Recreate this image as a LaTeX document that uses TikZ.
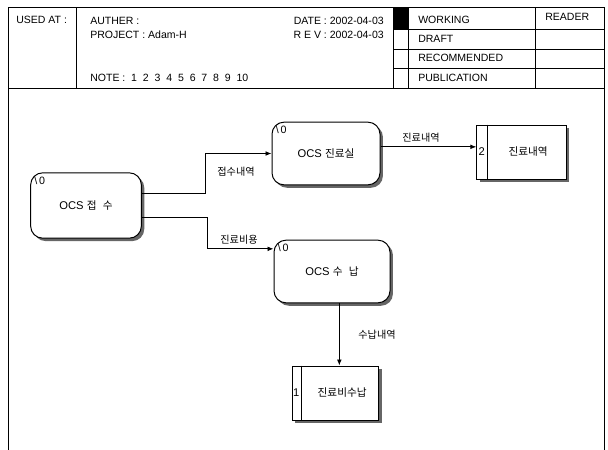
\documentclass[tikz,border=0pt]{standalone}
\usepackage{fontspec}
\setmainfont{Liberation Sans}
\newfontfamily\kr{Noto Sans CJK KR}[Scale=0.95]
\usetikzlibrary{arrows.meta,positioning,shadows}
\tikzset{
  frame/.style={line width=0.75pt},
  hdr/.style={anchor=west, inner sep=0pt, font=\fontsize{7.9}{9}\selectfont},
  proc/.style={rectangle, rounded corners=9pt, draw, line width=0.75pt, fill=white, minimum width=81pt, minimum height=47pt, font=\fontsize{8.4}{10}\selectfont, drop shadow={shadow xshift=2.2pt, shadow yshift=-2.2pt, fill=black!60, opacity=1}},
  store/.style={rectangle, draw, line width=0.75pt, fill=white, minimum width=66pt, minimum height=40.5pt, font=\fontsize{8.4}{10}\selectfont, drop shadow={shadow xshift=2.2pt, shadow yshift=-2.2pt, fill=black!60, opacity=1}},
  tag/.style={anchor=north west, inner sep=0pt, font=\fontsize{8}{9}\selectfont},
  num/.style={inner sep=0pt, font=\fontsize{8.4}{10}\selectfont},
  flow/.style={-{Latex[length=4.5pt,width=3.6pt]}, line width=0.65pt},
  flowlbl/.style={inner sep=0pt, font=\kr\fontsize{8}{10}\selectfont}
}
\begin{document}
\begin{tikzpicture}[x=0.75pt,y=-0.75pt]
  \useasboundingbox (0,0) rectangle (608,450);
  % header
  \draw[frame] (8,7) rectangle (604,88);
  \draw[frame] (76,7) -- (76,88);
  \draw[frame] (393,7) -- (393,88);
  \draw[frame] (408,7) -- (408,88);
  \draw[frame] (535,7) -- (535,88);
  \foreach \y in {29,49,68} \draw[frame] (393,\y) -- (604,\y);
  \fill (393,7) rectangle (408,29);
  \node[hdr] (usedat) at (16,20) {USED AT :};
  \node[hdr] (auther) at (90,21) {AUTHER :};
  \node[hdr] (project) at (90,35) {PROJECT : Adam-H};
  \node[hdr] (note) at (90,78) {NOTE :\ \ 1\ \ 2\ \ 3\ \ 4\ \ 5\ \ 6\ \ 7\ \ 8\ \ 9\ \ 10};
  \node[hdr, anchor=east] (date) at (384,21) {DATE : 2002-04-03};
  \node[hdr, anchor=east] (rev) at (384,35) {R E V : 2002-04-03};
  \node[hdr] (working) at (418,20) {WORKING};
  \node[hdr] (draft) at (418,39) {DRAFT};
  \node[hdr] (recomm) at (418,58) {RECOMMENDED};
  \node[hdr] (public) at (418,78) {PUBLICATION};
  \node[hdr] (reader) at (545,17) {READER};
  % main frame
  \draw[frame] (8,88) -- (8,450);
  \draw[frame] (604,88) -- (604,450);

  % processes
  \node[proc, minimum width=83pt, minimum height=49pt] (p0) at (86,205.5) {OCS {\kr 접}\ \ {\kr 수}};
  \node[proc] (p1) at (326,153.5) {OCS {\kr 진료실}};
  \node[proc, minimum width=87pt] (p2) at (332,271.5) {OCS {\kr 수}\ \ {\kr 납}};
  \node[tag] (t0) at ([shift={(3pt,-3pt)}]p0.north west) {\textbackslash\,0};
  \node[tag] (t1) at ([shift={(3pt,-3pt)}]p1.north west) {\textbackslash\,0};
  \node[tag] (t2) at ([shift={(3pt,-3pt)}]p2.north west) {\textbackslash\,0};

  % data stores
  \node[store, minimum width=67pt] (d2) at (521.5,152) {\hspace*{10pt}{\kr 진료내역}};
  \node[store, minimum width=65pt] (d1) at (335.5,393) {\hspace*{10pt}{\kr 진료비수납}};
  \draw[frame] ([xshift=8.2pt]d2.north west) -- ([xshift=8.2pt]d2.south west);
  \draw[frame] ([xshift=7pt]d1.north west) -- ([xshift=7pt]d1.south west);
  \node[num] (n2) at ([xshift=4.1pt]d2.west) {2};
  \node[num] (n1) at ([xshift=3.5pt]d1.west) {1};

  % flows
  \coordinate (b1) at (205,193);
  \coordinate (b2) at (207,217);
  \draw[flow] (p0.east |- b1) -- (b1) |- (p1.west);
  \draw[flow] (p0.east |- b2) -- (b2) |- ([yshift=17pt]p2.west);
  \draw[flow] ([yshift=5pt]p1.east) -- ([yshift=5pt]p1.east -| d2.west);
  \draw[flow] ([xshift=5.5pt]p2.south) -- ([xshift=5.5pt]p2.south |- d1.north);
  \node[flowlbl] (l1) at (236,172) {접수내역};
  \node[flowlbl] (l2) at (239,240) {진료비용};
  \node[flowlbl] (l3) at (421,138) {진료내역};
  \node[flowlbl] (l4) at (377,335) {수납내역};
\end{tikzpicture}
\end{document}
